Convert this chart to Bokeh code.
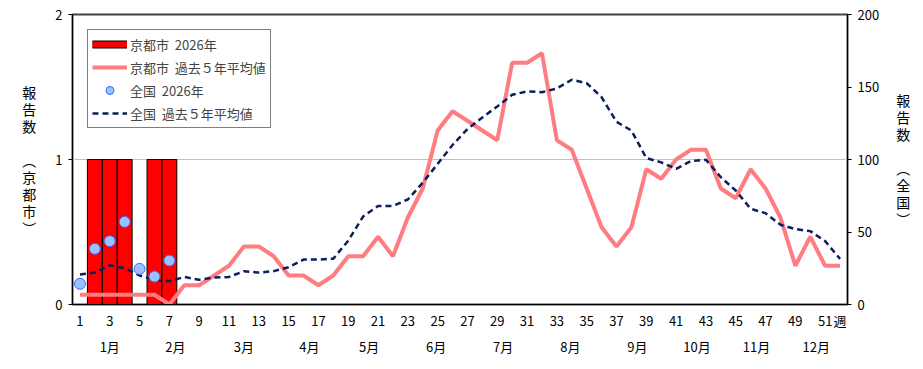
from bokeh.plotting import figure
from bokeh.models import (LinearAxis, Range1d, FixedTicker, Legend, LegendItem,
                          ColumnDataSource)
from bokeh.embed import file_html
from bokeh.resources import INLINE

# ---- data ----
weeks = list(range(1, 53))
kyoto_weeks_2026 = [1, 2, 3, 4, 5, 6, 7]
kyoto_2026 = [0, 1, 1, 1, 0, 1, 1]
kyoto_avg = [0.067, 0.067, 0.067, 0.067, 0.067, 0.067, 0.0, 0.133, 0.133, 0.2,
             0.267, 0.4, 0.4, 0.333, 0.2, 0.2, 0.133, 0.2, 0.333, 0.333,
             0.467, 0.333, 0.6, 0.8, 1.2, 1.333, 1.267, 1.2, 1.133, 1.667,
             1.667, 1.733, 1.133, 1.067, 0.8, 0.533, 0.4, 0.533, 0.933, 0.867,
             1.0, 1.067, 1.067, 0.8, 0.733, 0.933, 0.8, 0.6, 0.267, 0.467,
             0.267, 0.267]
national_weeks_2026 = [1, 2, 3, 4, 5, 6, 7]
national_2026 = [14.3, 38.4, 43.7, 57.0, 24.6, 19.3, 30.3]
national_avg = [20.7, 22.0, 27.0, 25.0, 20.0, 17.0, 16.0, 19.0, 17.0, 18.6,
                19.0, 23.0, 22.0, 23.0, 25.7, 31.0, 31.0, 31.6, 44.0, 60.7,
                68.0, 68.0, 72.4, 84.0, 97.0, 110.0, 121.0, 129.0, 136.6, 144.6,
                147.0, 146.4, 149.0, 155.0, 152.6, 143.0, 126.0, 120.0, 101.0, 98.0,
                93.6, 98.9, 99.8, 87.8, 78.6, 66.0, 63.0, 55.0, 52.0, 50.6,
                43.7, 31.5]
x_ticks = [1, 3, 5, 7, 9, 11, 13, 15, 17, 19, 21, 23, 25, 27, 29, 31, 33, 35,
           37, 39, 41, 43, 45, 47, 49, 51]
week_unit_tick = 52
week_unit_label = "週"
month_pos = [3, 7.4, 12, 16.4, 20.4, 24.9, 29.4, 33.9, 38.4, 42.4, 46.4, 50.4]
month_labels = ["1月", "2月", "3月", "4月", "5月", "6月", "7月", "8月", "9月",
                "10月", "11月", "12月"]
left_ticks = [0, 1, 2]
right_ticks = [0, 50, 100, 150, 200]
left_title = "報\n告\n数\n\n︵\n京\n都\n市\n︶"
right_title = "報\n告\n数\n\n︵\n全\n国\n︶"

FONT = "Noto Sans CJK JP"

p = figure(width=923, height=369, x_range=Range1d(0.5, 52.5), y_range=Range1d(0, 2),
           output_backend="svg", toolbar_location=None,
           min_border_left=72, min_border_right=76, min_border_top=14,
           min_border_bottom=65)
p.extra_y_ranges = {"nat": Range1d(0, 200)}
p.background_fill_color = "white"
p.border_fill_color = "white"
p.outline_line_color = "#404040"
p.outline_line_width = 2

# grid
p.xgrid.visible = False
p.ygrid.ticker = FixedTicker(ticks=[1])
p.ygrid.grid_line_color = "#c0c0c0"
p.ygrid.grid_line_width = 1

# left axis
ya = p.yaxis[0]
ya.ticker = FixedTicker(ticks=left_ticks)
ya.minor_tick_line_color = None
ya.major_tick_in = 0
ya.major_tick_out = 4
ya.major_label_standoff = 6
ya.axis_line_color = "black"
ya.major_tick_line_color = "black"
ya.major_label_text_font = FONT
ya.major_label_text_font_size = "13px"
ya.major_label_text_color = "black"
ya.axis_label = left_title
ya.axis_label_orientation = "horizontal"
ya.axis_label_standoff = 16
ya.axis_label_text_font = FONT
ya.axis_label_text_font_size = "14px"
ya.axis_label_text_font_style = "normal"
ya.axis_label_text_color = "black"
ya.axis_label_text_line_height = 0.85

# right axis
ra = LinearAxis(y_range_name="nat", ticker=FixedTicker(ticks=right_ticks))
ra.minor_tick_line_color = None
ra.major_tick_in = 0
ra.major_tick_out = 4
ra.major_label_standoff = 6
ra.axis_line_color = "black"
ra.major_label_text_font = FONT
ra.major_label_text_font_size = "13px"
ra.major_label_text_color = "black"
ra.axis_label = right_title
ra.axis_label_orientation = "horizontal"
ra.axis_label_standoff = 14
ra.axis_label_text_font = FONT
ra.axis_label_text_font_size = "14px"
ra.axis_label_text_font_style = "normal"
ra.axis_label_text_color = "black"
ra.axis_label_text_line_height = 0.85
p.add_layout(ra, "right")

# bottom axis (weeks)
xa = p.xaxis[0]
xa.ticker = FixedTicker(ticks=x_ticks + [week_unit_tick])
xa.major_label_overrides = {week_unit_tick: week_unit_label}
xa.major_tick_line_color = None
xa.minor_tick_line_color = None
xa.major_tick_out = 0
xa.major_tick_in = 0
xa.major_label_standoff = 6
xa.axis_line_color = "black"
xa.major_label_text_font = FONT
xa.major_label_text_font_size = "13px"
xa.major_label_text_color = "black"

# month axis
ma = LinearAxis(ticker=FixedTicker(ticks=month_pos),
                major_label_overrides={pos: lab for pos, lab in zip(month_pos, month_labels)})
ma.axis_line_color = None
ma.major_tick_line_color = None
ma.minor_tick_line_color = None
ma.major_tick_out = 0
ma.major_tick_in = 0
ma.major_label_standoff = 4
ma.major_label_text_font = FONT
ma.major_label_text_font_size = "13px"
ma.major_label_text_color = "black"
p.add_layout(ma, "below")

# bars
bar_src = ColumnDataSource(dict(
    x=[w for w, v in zip(kyoto_weeks_2026, kyoto_2026) if v > 0],
    top=[v for v in kyoto_2026 if v > 0]))
bars = p.vbar(x="x", top="top", width=1, source=bar_src,
              fill_color="#ff0000", line_color="black", line_width=1)

kline = p.line(weeks, kyoto_avg, line_color="#ff7c80", line_width=4)
nline = p.line(weeks, national_avg, y_range_name="nat", line_color="#0a1f5c",
               line_width=2.5, line_dash="6 4")
pts = p.scatter(national_weeks_2026, national_2026, y_range_name="nat", size=11,
                fill_color="#99c2ff", line_color="#3a66ff", line_width=1)

# legend proxies for bar swatch (placed outside the visible x range)
lb_black = p.line([-20, -19], [0.5, 0.5], line_color="black", line_width=8, line_cap="butt")
lb_red = p.line([-20, -19], [0.5, 0.5], line_color="#ff0000", line_width=6, line_cap="butt")

legend = Legend(items=[
    LegendItem(label="京都市  2026年", renderers=[lb_black, lb_red]),
    LegendItem(label="京都市  過去５年平均値", renderers=[kline]),
    LegendItem(label="全国  2026年", renderers=[pts]),
    LegendItem(label="全国  過去５年平均値", renderers=[nline]),
], location="top_left")
legend.margin = 15
legend.padding = 4
legend.spacing = 3
legend.glyph_width = 35
legend.glyph_height = 20
legend.label_height = 20
legend.label_standoff = 3
legend.label_text_font = FONT
legend.label_text_font_size = "13px"
legend.border_line_color = "black"
legend.border_line_width = 1
legend.background_fill_alpha = 1
p.add_layout(legend)

open("out.html", "w").write(file_html(p, INLINE))
